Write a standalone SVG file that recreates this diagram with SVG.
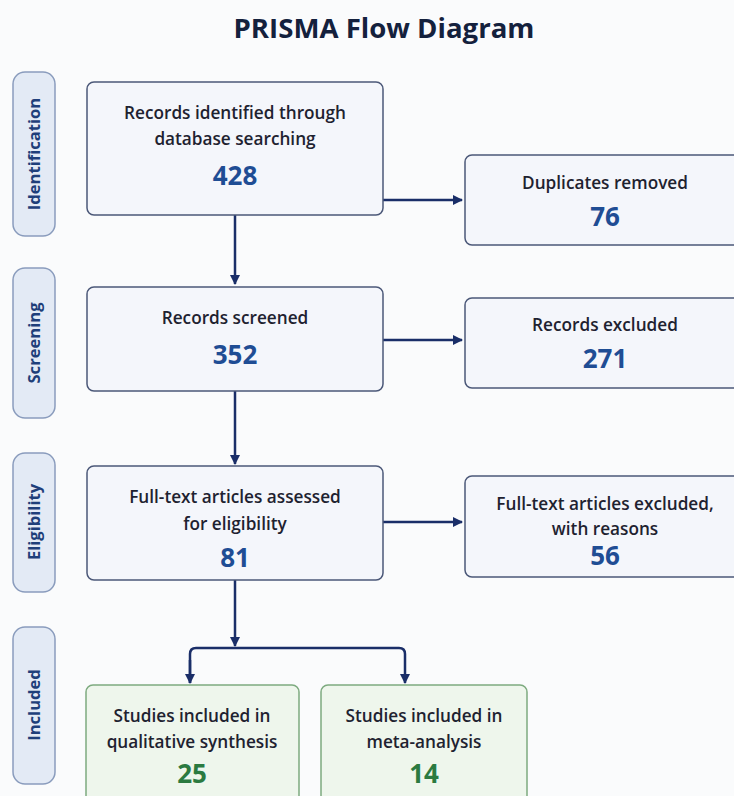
<svg xmlns="http://www.w3.org/2000/svg" width="734" height="796" viewBox="0 0 734 796">
<style>
.box{fill:#f4f6fb;stroke:#4b5878;stroke-width:1.5}
.gbox{fill:#eef6ec;stroke:#7daa7f;stroke-width:1.5}
.side{fill:#e3eaf5;stroke:#8a9cbd;stroke-width:1.5}
.t{font-family:"Open Sans","Noto Sans",sans-serif;font-weight:600;font-size:17.2px;fill:#1e2230;text-anchor:middle}
.n{font-family:"Open Sans","Noto Sans",sans-serif;font-weight:700;font-size:26px;fill:#1f4d94;text-anchor:middle}
.gn{fill:#2b7a40}
.s{font-family:"Open Sans","Noto Sans",sans-serif;font-weight:700;font-size:16.6px;fill:#1f3f7a;text-anchor:middle}
.c{fill:none;stroke:#1a2e68;stroke-width:2.5}
</style>
<defs>
<marker id="ah" markerWidth="10" markerHeight="10" refX="9" refY="5" orient="auto" markerUnits="userSpaceOnUse" viewBox="0 0 10 10">
<path d="M0,0 L10,5 L0,10 Z" fill="#1a2e68"/>
</marker>
</defs>
<rect width="734" height="796" fill="#fafbfc"/>
<text x="384" y="38" font-family="Open Sans, Noto Sans, sans-serif" font-weight="700" font-size="27.6" fill="#14213d" text-anchor="middle">PRISMA Flow Diagram</text>

<g id="side-identification"><rect class="side" x="13" y="72" width="42" height="164" rx="12"/><text class="s" transform="translate(40,154) rotate(-90)">Identification</text></g>
<g id="side-screening"><rect class="side" x="13" y="268" width="42" height="150" rx="12"/><text class="s" transform="translate(40,343) rotate(-90)">Screening</text></g>
<g id="side-eligibility"><rect class="side" x="13" y="453" width="42" height="139" rx="12"/><text class="s" transform="translate(40,522) rotate(-90)">Eligibility</text></g>
<g id="side-included"><rect class="side" x="13" y="627" width="42" height="157" rx="12"/><text class="s" transform="translate(40,705) rotate(-90)">Included</text></g>

<g id="connectors">
<path class="c" d="M383,200 H462" marker-end="url(#ah)"/>
<path class="c" d="M383,340 H462" marker-end="url(#ah)"/>
<path class="c" d="M383,522 H462" marker-end="url(#ah)"/>
<path class="c" d="M235,215 V284" marker-end="url(#ah)"/>
<path class="c" d="M235,391 V464" marker-end="url(#ah)"/>
<path class="c" d="M235,580 V646" marker-end="url(#ah)"/>
<path class="c" d="M190,683 V654 Q190,648 196,648 H399 Q405,648 405,654 V683" marker-end="url(#ah)"/>
<path class="c" d="M190,660 V683" marker-end="url(#ah)"/>
</g>

<g id="n-identified"><rect class="box" x="87" y="82" width="296" height="133" rx="7"/>
<text class="t" x="235" y="119">Records identified through</text>
<text class="t" x="235" y="145">database searching</text>
<text class="n" x="235" y="185">428</text></g>

<g id="n-duplicates"><rect class="box" x="465" y="155" width="280" height="90" rx="7"/>
<text class="t" x="605" y="189">Duplicates removed</text>
<text class="n" x="605" y="226">76</text></g>

<g id="n-screened"><rect class="box" x="87" y="287" width="296" height="104" rx="7"/>
<text class="t" x="235" y="324">Records screened</text>
<text class="n" x="235" y="364">352</text></g>

<g id="n-excluded"><rect class="box" x="465" y="298" width="280" height="90" rx="7"/>
<text class="t" x="605" y="331">Records excluded</text>
<text class="n" x="605" y="368">271</text></g>

<g id="n-assessed"><rect class="box" x="87" y="466" width="296" height="114" rx="7"/>
<text class="t" x="235" y="503">Full-text articles assessed</text>
<text class="t" x="235" y="530">for eligibility</text>
<text class="n" x="235" y="567">81</text></g>

<g id="n-ftexcluded"><rect class="box" x="465" y="476" width="280" height="101" rx="7"/>
<text class="t" x="605" y="510">Full-text articles excluded,</text>
<text class="t" x="605" y="535">with reasons</text>
<text class="n" x="605" y="565">56</text></g>

<g id="n-qualitative"><rect class="gbox" x="86" y="685" width="213" height="130" rx="7"/>
<text class="t" x="192" y="722">Studies included in</text>
<text class="t" x="192" y="748">qualitative synthesis</text>
<text class="n gn" x="192" y="783">25</text></g>

<g id="n-meta"><rect class="gbox" x="321" y="685" width="206" height="130" rx="7"/>
<text class="t" x="424" y="722">Studies included in</text>
<text class="t" x="424" y="748">meta-analysis</text>
<text class="n gn" x="424" y="783">14</text></g>
</svg>
